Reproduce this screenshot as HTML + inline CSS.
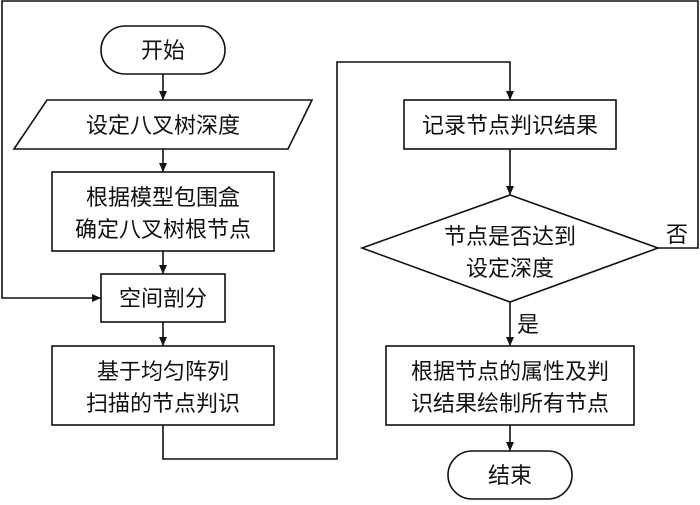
<!DOCTYPE html>
<html><head><meta charset="utf-8"><style>
html,body{margin:0;padding:0;background:#fff;}
svg text{font-family:"Liberation Sans","Noto Sans CJK SC",sans-serif;font-size:22px;fill:#111;}
</style></head><body>
<svg width="700" height="500" viewBox="0 0 700 500" xmlns="http://www.w3.org/2000/svg">
<defs><marker id="a" markerWidth="10" markerHeight="10" refX="9" refY="4" orient="auto" markerUnits="userSpaceOnUse"><path d="M0,0 L9,4 L0,8 Z" fill="#111"/></marker></defs>
<g fill="none" stroke="#111" stroke-width="1.6">
<rect x="101" y="26" width="124" height="48" rx="24"/>
<polygon points="47,100 312,100 288,149 14,149"/>
<rect x="52" y="172" width="222" height="79"/>
<rect x="101" y="274" width="124" height="48"/>
<rect x="52" y="346" width="222" height="79"/>
<rect x="404" y="100" width="212" height="49"/>
<polygon points="510,195 658,248 510,302 362,248"/>
<rect x="386" y="346" width="248" height="79"/>
<rect x="448" y="451" width="124" height="48" rx="24"/>
<line x1="163" y1="74" x2="163" y2="100" marker-end="url(#a)"/>
<line x1="163" y1="149" x2="163" y2="172" marker-end="url(#a)"/>
<line x1="163" y1="251" x2="163" y2="274" marker-end="url(#a)"/>
<line x1="163" y1="322" x2="163" y2="346" marker-end="url(#a)"/>
<polyline points="163,425 163,459 337,459 337,62 510,62 510,100" marker-end="url(#a)"/>
<line x1="510" y1="149" x2="510" y2="195" marker-end="url(#a)"/>
<line x1="510" y1="302" x2="510" y2="346" marker-end="url(#a)"/>
<line x1="510" y1="425" x2="510" y2="451" marker-end="url(#a)"/>
<polyline points="658,248 698,248 698,1 2,1 2,298 101,298" marker-end="url(#a)"/>
</g>
<g text-anchor="middle">
<text x="163" y="58">开始</text>
<text x="163" y="133">设定八叉树深度</text>
<text x="163" y="205">根据模型包围盒</text>
<text x="163" y="237">确定八叉树根节点</text>
<text x="163" y="306">空间剖分</text>
<text x="163" y="379">基于均匀阵列</text>
<text x="163" y="411">扫描的节点判识</text>
<text x="510" y="133">记录节点判识结果</text>
<text x="510" y="244">节点是否达到</text>
<text x="510" y="276">设定深度</text>
<text x="510" y="379">根据节点的属性及判</text>
<text x="510" y="411">识结果绘制所有节点</text>
<text x="510" y="483">结束</text>
<text x="677" y="242">否</text>
<text x="528" y="332">是</text>
</g>
</svg>
</body></html>
